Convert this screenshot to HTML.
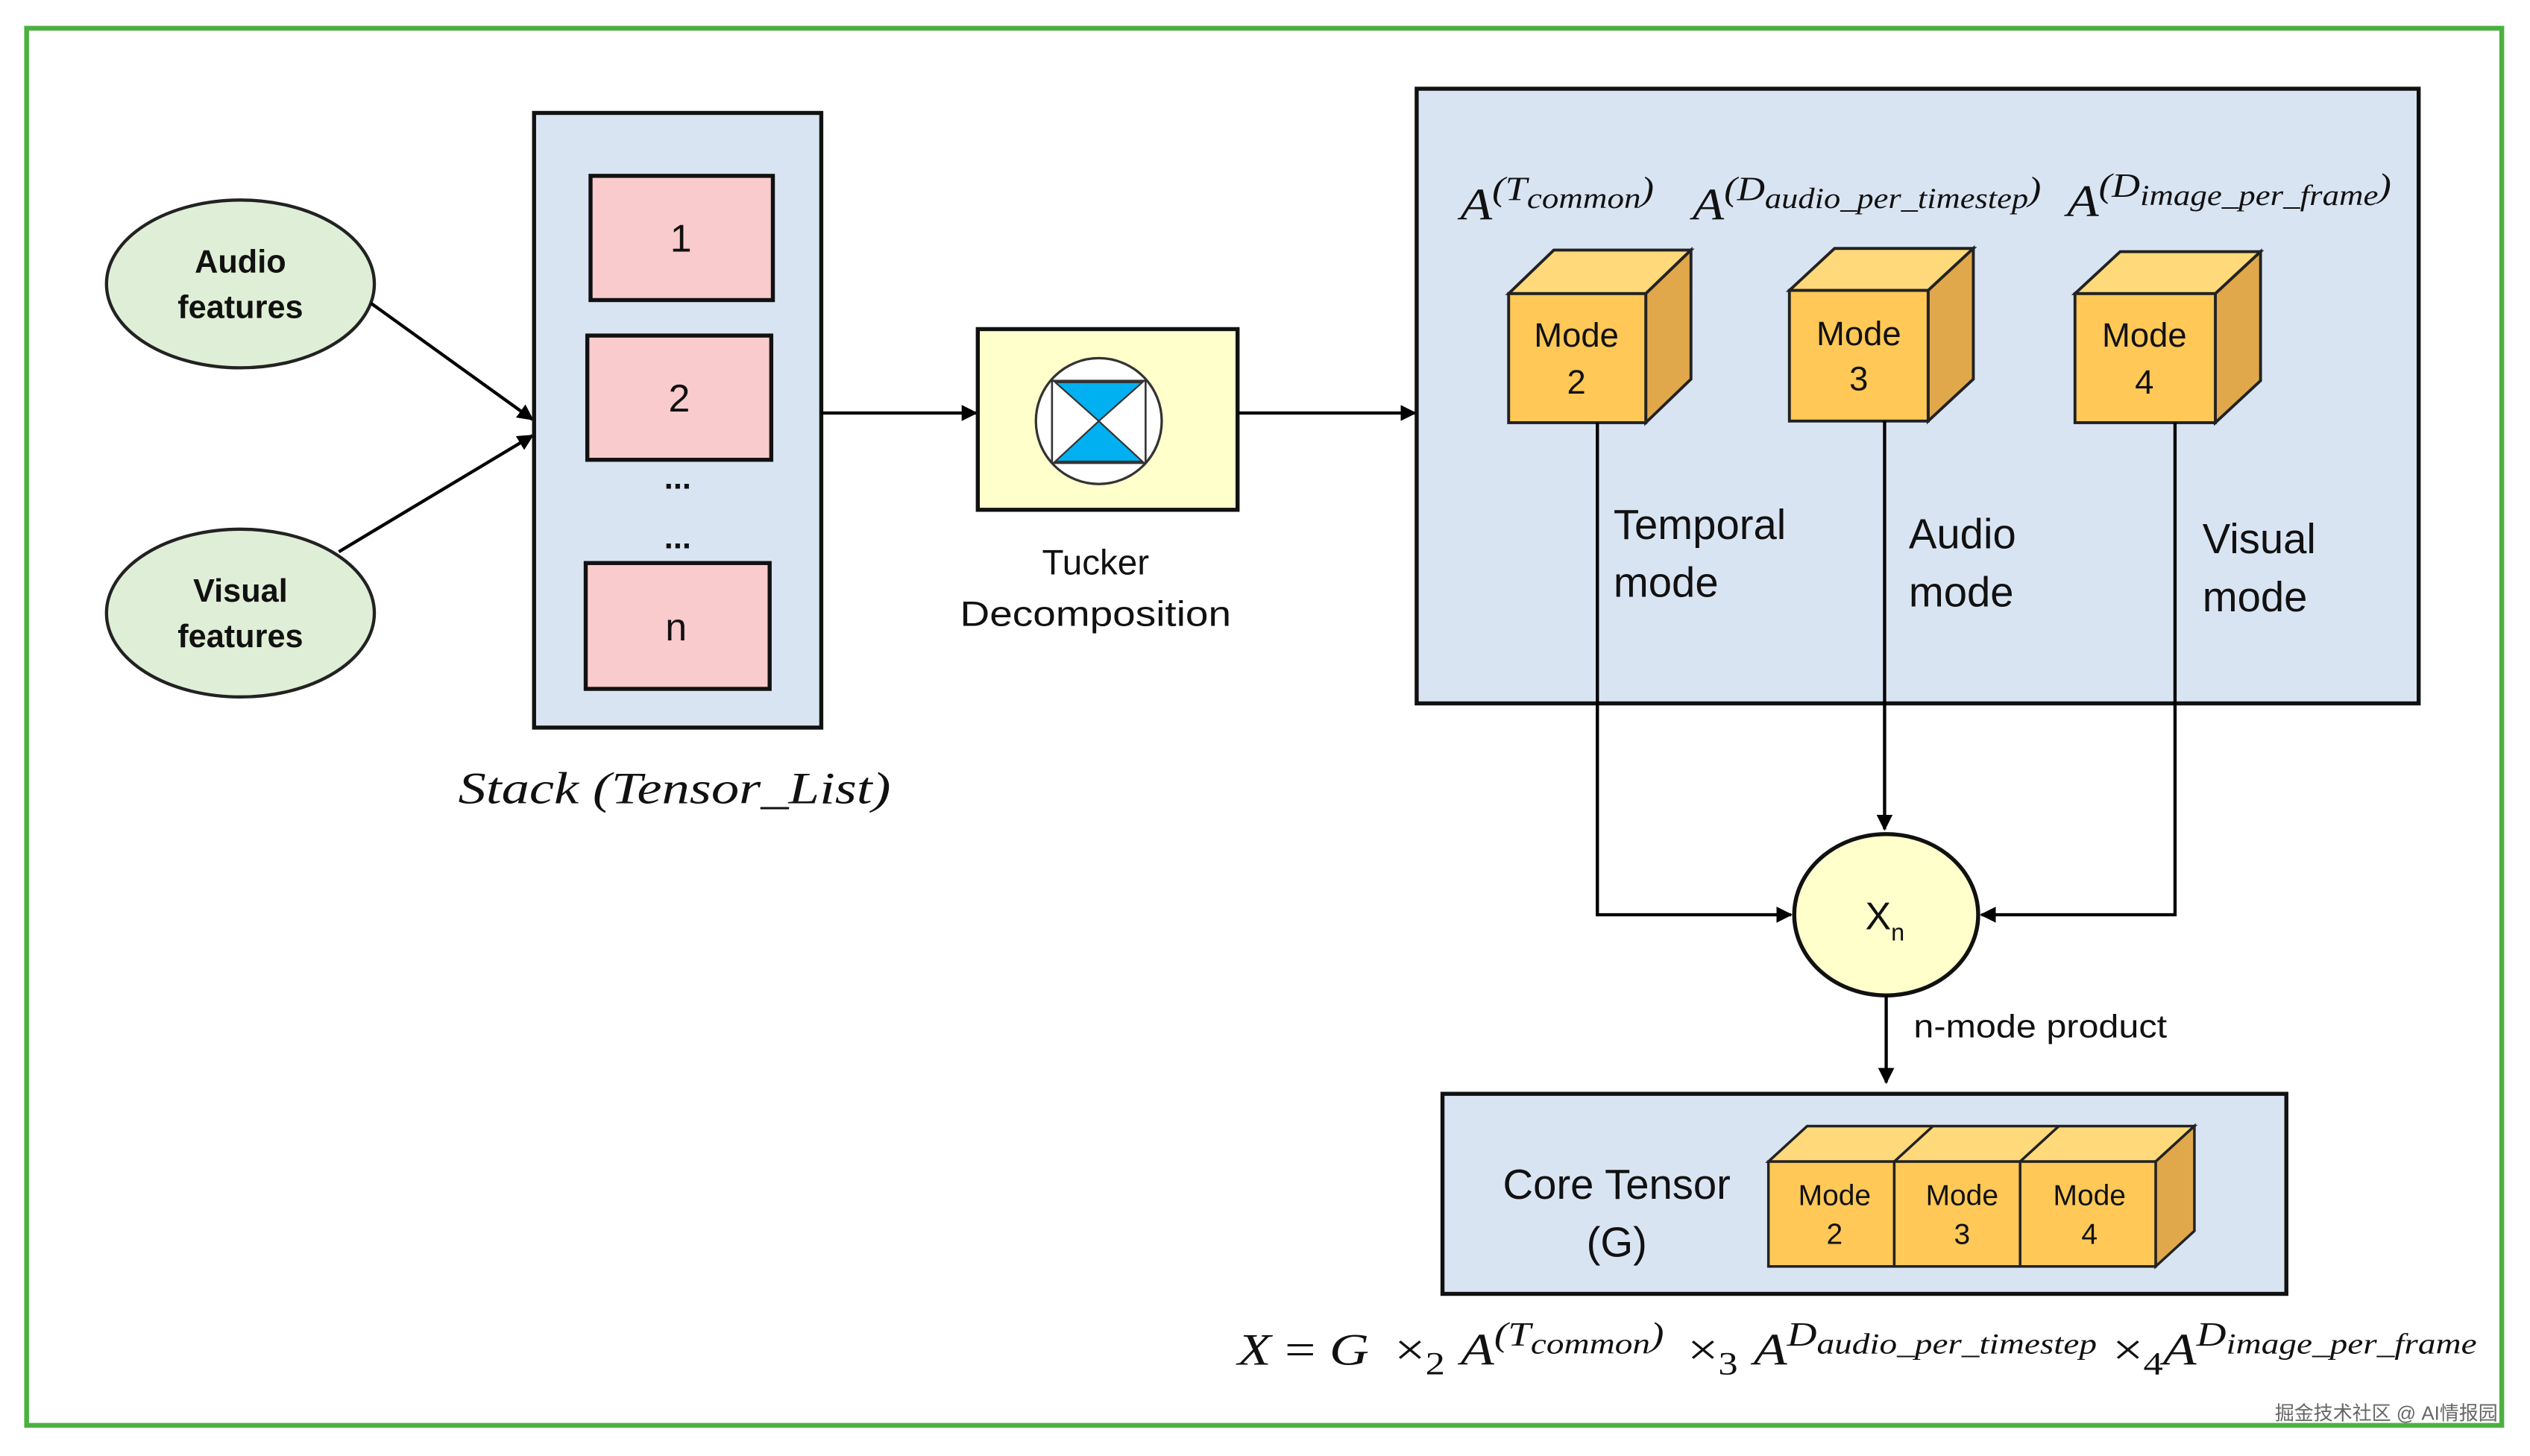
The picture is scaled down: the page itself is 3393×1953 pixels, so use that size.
<!DOCTYPE html>
<html><head><meta charset="utf-8"><style>
html,body{margin:0;padding:0;background:#fff;}
svg{display:block;}
text{font-family:"Liberation Sans",sans-serif;fill:#111;}
.m{font-family:"Liberation Serif",serif;font-style:italic;}
</style></head><body>
<svg width="3393" height="1953" viewBox="0 0 1568 902.5" preserveAspectRatio="none" xmlns="http://www.w3.org/2000/svg">
<defs>
<marker id="ar" viewBox="0 0 10 10" refX="9" refY="5" markerWidth="5" markerHeight="5" orient="auto-start-reverse"><path d="M0,0 L10,5 L0,10 z" fill="#000"/></marker>
</defs>
<rect x="0" y="0" width="1568" height="902.5" fill="#fff"/>
<rect x="16.5" y="17.5" width="1534" height="866" fill="none" stroke="#4cb040" stroke-width="3"/>

<ellipse cx="149" cy="176" rx="83" ry="52" fill="#dfeed6" stroke="#222" stroke-width="2"/>
<text x="149" y="169" text-anchor="middle" font-size="20" font-weight="bold">Audio</text>
<text x="149" y="197" text-anchor="middle" font-size="20" font-weight="bold">features</text>
<ellipse cx="149" cy="380" rx="83" ry="52" fill="#dfeed6" stroke="#222" stroke-width="2"/>
<text x="149" y="373" text-anchor="middle" font-size="20" font-weight="bold">Visual</text>
<text x="149" y="401" text-anchor="middle" font-size="20" font-weight="bold">features</text>
<line x1="230" y1="188" x2="330" y2="260" stroke="#000" stroke-width="2" marker-end="url(#ar)"/>
<line x1="210" y1="342" x2="330" y2="270" stroke="#000" stroke-width="2" marker-end="url(#ar)"/>

<rect x="331" y="70" width="178" height="381" fill="#d9e4f3" stroke="#111" stroke-width="2.5"/>
<rect x="366" y="109" width="113" height="77" fill="#f9cbcc" stroke="#111" stroke-width="2.5"/>
<text x="422" y="156" text-anchor="middle" font-size="24">1</text>
<rect x="364" y="208" width="114" height="77" fill="#f9cbcc" stroke="#111" stroke-width="2.5"/>
<text x="421" y="255" text-anchor="middle" font-size="24">2</text>
<text x="420" y="303" text-anchor="middle" font-size="20" font-weight="bold">...</text>
<text x="420" y="340" text-anchor="middle" font-size="20" font-weight="bold">...</text>
<rect x="363" y="349" width="114" height="78" fill="#f9cbcc" stroke="#111" stroke-width="2.5"/>
<text x="419" y="397" text-anchor="middle" font-size="24">n</text>
<text x="284" y="498" font-size="28" class="m" textLength="268" lengthAdjust="spacingAndGlyphs">Stack (Tensor_List)</text>

<line x1="509" y1="256" x2="605" y2="256" stroke="#000" stroke-width="2" marker-end="url(#ar)"/>
<rect x="606" y="204" width="161" height="112" fill="#ffffcc" stroke="#111" stroke-width="2.5"/>
<ellipse cx="681" cy="261" rx="39" ry="39" fill="#fff" stroke="#333" stroke-width="1.5"/>
<rect x="652" y="236" width="58" height="51" fill="#fff" stroke="#333" stroke-width="1.2"/>
<polygon points="654,237 708,237 681,261" fill="#00b0f0" stroke="#333" stroke-width="1"/>
<polygon points="681,261 654,286 708,286" fill="#00b0f0" stroke="#333" stroke-width="1"/>
<text x="679" y="356" text-anchor="middle" font-size="22">Tucker</text>
<text x="679" y="388" text-anchor="middle" font-size="22" textLength="168" lengthAdjust="spacingAndGlyphs">Decomposition</text>

<line x1="767" y1="256" x2="877" y2="256" stroke="#000" stroke-width="2" marker-end="url(#ar)"/>
<rect x="878" y="55" width="621" height="381" fill="#d9e4f3" stroke="#111" stroke-width="2.5"/>
<text x="905" y="136" class="m" font-size="28" textLength="120" lengthAdjust="spacingAndGlyphs">A<tspan dy="-12" font-size="21">(T</tspan><tspan dy="5" font-size="18">common</tspan><tspan dy="-5" font-size="21">)</tspan></text>
<text x="1049" y="136" class="m" font-size="28" textLength="216" lengthAdjust="spacingAndGlyphs">A<tspan dy="-12" font-size="21">(D</tspan><tspan dy="5" font-size="18">audio_per_timestep</tspan><tspan dy="-5" font-size="21">)</tspan></text>
<text x="1281" y="134" class="m" font-size="28" textLength="201" lengthAdjust="spacingAndGlyphs">A<tspan dy="-12" font-size="21">(D</tspan><tspan dy="5" font-size="18">image_per_frame</tspan><tspan dy="-5" font-size="21">)</tspan></text>

<g stroke="#222" stroke-width="1.8">
<polygon points="935,182 963,155 1048,155 1020,182" fill="#ffd97a"/>
<polygon points="1020,182 1048,155 1048,235 1020,262" fill="#e0a84a"/>
<rect x="935" y="182" width="85" height="80" fill="#ffc857"/>
<polygon points="1109,180 1137,154 1223,154 1195,180" fill="#ffd97a"/>
<polygon points="1195,180 1223,154 1223,235 1195,261" fill="#e0a84a"/>
<rect x="1109" y="180" width="86" height="81" fill="#ffc857"/>
<polygon points="1286,182 1314,156 1401,156 1373,182" fill="#ffd97a"/>
<polygon points="1373,182 1401,156 1401,236 1373,262" fill="#e0a84a"/>
<rect x="1286" y="182" width="87" height="80" fill="#ffc857"/>
</g>
<text x="977" y="215" text-anchor="middle" font-size="21">Mode</text>
<text x="977" y="244" text-anchor="middle" font-size="21">2</text>
<text x="1152" y="214" text-anchor="middle" font-size="21">Mode</text>
<text x="1152" y="242" text-anchor="middle" font-size="21">3</text>
<text x="1329" y="215" text-anchor="middle" font-size="21">Mode</text>
<text x="1329" y="244" text-anchor="middle" font-size="21">4</text>

<text x="1000" y="334" font-size="26">Temporal</text>
<text x="1000" y="370" font-size="26">mode</text>
<text x="1183" y="340" font-size="26">Audio</text>
<text x="1183" y="376" font-size="26">mode</text>
<text x="1365" y="343" font-size="26">Visual</text>
<text x="1365" y="379" font-size="26">mode</text>

<polyline points="990,262 990,567 1110,567" fill="none" stroke="#000" stroke-width="2" marker-end="url(#ar)"/>
<line x1="1168" y1="261" x2="1168" y2="514" stroke="#000" stroke-width="2" marker-end="url(#ar)"/>
<polyline points="1348,262 1348,567 1228,567" fill="none" stroke="#000" stroke-width="2" marker-end="url(#ar)"/>

<ellipse cx="1169" cy="567" rx="57" ry="50" fill="#ffffcc" stroke="#111" stroke-width="2.5"/>
<text x="1156" y="576" font-size="24">X<tspan dy="7" font-size="15">n</tspan></text>
<line x1="1169" y1="617" x2="1169" y2="671" stroke="#000" stroke-width="2" marker-end="url(#ar)"/>
<text x="1186" y="643" font-size="20" textLength="157" lengthAdjust="spacingAndGlyphs">n-mode product</text>

<rect x="894" y="678" width="523" height="124" fill="#d9e4f3" stroke="#111" stroke-width="2.5"/>
<text x="1002" y="743" text-anchor="middle" font-size="26">Core Tensor</text>
<text x="1002" y="779" text-anchor="middle" font-size="26">(G)</text>
<g stroke="#222" stroke-width="1.6">
<polygon points="1096,720 1120,698 1360,698 1336,720" fill="#ffd97a"/>
<line x1="1174" y1="720" x2="1198" y2="698"/>
<line x1="1252" y1="720" x2="1276" y2="698"/>
<polygon points="1336,720 1360,698 1360,763 1336,785" fill="#e0a84a"/>
<rect x="1096" y="720" width="78" height="65" fill="#ffc857"/>
<rect x="1174" y="720" width="78" height="65" fill="#ffc857"/>
<rect x="1252" y="720" width="84" height="65" fill="#ffc857"/>
</g>
<text x="1137" y="747" text-anchor="middle" font-size="18">Mode</text>
<text x="1137" y="771" text-anchor="middle" font-size="18">2</text>
<text x="1216" y="747" text-anchor="middle" font-size="18">Mode</text>
<text x="1216" y="771" text-anchor="middle" font-size="18">3</text>
<text x="1295" y="747" text-anchor="middle" font-size="18">Mode</text>
<text x="1295" y="771" text-anchor="middle" font-size="18">4</text>

<text x="767" y="846" class="m" font-size="28" textLength="768" lengthAdjust="spacingAndGlyphs">X <tspan font-style="normal">=</tspan> G <tspan font-style="normal" dx="6">×</tspan><tspan font-style="normal" dy="6" font-size="20">2</tspan><tspan dy="-6" dx="8">A</tspan><tspan dy="-12" font-size="21">(T</tspan><tspan dy="5" font-size="18">common</tspan><tspan dy="-5" font-size="21">)</tspan><tspan dy="12" font-style="normal" dx="12">×</tspan><tspan font-style="normal" dy="6" font-size="20">3</tspan><tspan dy="-6" dx="8">A</tspan><tspan dy="-12" font-size="21">D</tspan><tspan dy="5" font-size="18">audio_per_timestep</tspan><tspan dy="7" font-style="normal" dx="8">×</tspan><tspan font-style="normal" dy="6" font-size="20">4</tspan><tspan dy="-6">A</tspan><tspan dy="-12" font-size="21">D</tspan><tspan dy="5" font-size="18">image_per_frame</tspan></text>

<text x="1548" y="880" text-anchor="end" font-size="12" style="font-family:'Liberation Sans','Noto Sans CJK SC',sans-serif;fill:#666">掘金技术社区 @ AI情报园</text>
</svg>
</body></html>
